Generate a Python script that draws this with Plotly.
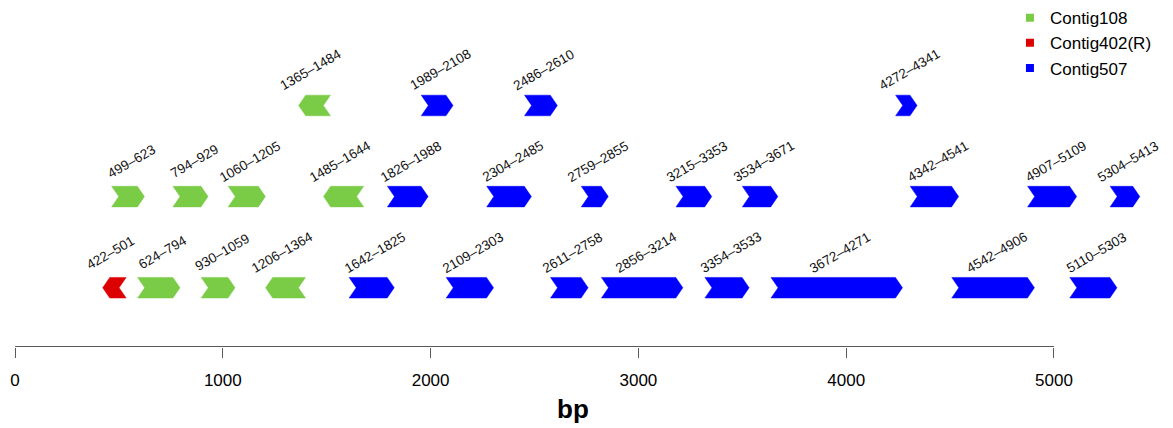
import plotly.graph_objects as go

# ---- data ----
contig_names = ["Contig108", "Contig402(R)", "Contig507"]
contig_colors = ["#7ACB46", "#DC0000", "#0000FF"]

# genes: start, end, strand (+1 forward / -1 reverse), contig index, row (1 = bottom, 3 = top)
gene_start = [1365, 1989, 2486, 4272,
              499, 794, 1060, 1485, 1826, 2304, 2759, 3215, 3534, 4342, 4907, 5304,
              422, 624, 930, 1206, 1642, 2109, 2611, 2856, 3354, 3672, 4542, 5110]
gene_end = [1484, 2108, 2610, 4341,
            623, 929, 1205, 1644, 1988, 2485, 2855, 3353, 3671, 4541, 5109, 5413,
            501, 794, 1059, 1364, 1825, 2303, 2758, 3214, 3533, 4271, 4906, 5303]
gene_strand = [-1, 1, 1, 1,
               1, 1, 1, -1, 1, 1, 1, 1, 1, 1, 1, 1,
               -1, 1, 1, -1, 1, 1, 1, 1, 1, 1, 1, 1]
gene_contig = [0, 2, 2, 2,
               0, 0, 0, 0, 2, 2, 2, 2, 2, 2, 2, 2,
               1, 0, 0, 0, 2, 2, 2, 2, 2, 2, 2, 2]
gene_row = [3, 3, 3, 3,
            2, 2, 2, 2, 2, 2, 2, 2, 2, 2, 2, 2,
            1, 1, 1, 1, 1, 1, 1, 1, 1, 1, 1, 1]

tick_vals = [0, 1000, 2000, 3000, 4000, 5000]
tick_text = ["0", "1000", "2000", "3000", "4000", "5000"]

# ---- style constants ----
HEAD = 34      # arrow head / notch length in bp
HALF_H = 0.113 # half height of arrow in row units
LABEL_DY = 0.39
Y_RANGE = [0.3495, 4.0806]
X_RANGE = [-72.18, 5572.7]
AXIS_Y = 0.3548
FONT = "Liberation Sans, Arial, Helvetica, sans-serif"

fig = go.Figure()

for ci, (name, col) in enumerate(zip(contig_names, contig_colors)):
    xs, ys = [], []
    for s, e, st, c, r in zip(gene_start, gene_end, gene_strand, gene_contig, gene_row):
        if c != ci:
            continue
        top, bot = r + HALF_H, r - HALF_H
        if st > 0:
            px = [s - HEAD, e - HEAD, e, e - HEAD, s - HEAD, s, s - HEAD]
            py = [top, top, r, bot, bot, r, top]
        else:
            px = [s, s + HEAD, e + HEAD, e, e + HEAD, s + HEAD, s]
            py = [r, top, top, r, bot, bot, r]
        xs += px + [None]
        ys += py + [None]
    fig.add_trace(go.Scatter(x=xs, y=ys, mode="lines", fill="toself",
                             fillcolor=col, line=dict(color=col, width=0.5),
                             hoverinfo="skip", showlegend=False))
    # legend-only entry
    fig.add_trace(go.Scatter(x=[None], y=[None], mode="markers", name=name,
                             marker=dict(symbol="square", size=8, color=col)))

# gene labels
for s, e, r in zip(gene_start, gene_end, gene_row):
    fig.add_annotation(x=(s + e) / 2, y=r + LABEL_DY, text=f"{s}\u2013{e}",
                       showarrow=False, textangle=-30, xanchor="center", yanchor="middle",
                       font=dict(family=FONT, size=13.5, color="#111"))

# x-axis title
fig.add_annotation(x=573 / 1173, y=-(410 - 347) / 347, xref="paper", yref="paper",
                   text="<b>bp</b>", showarrow=False, xanchor="center", yanchor="middle",
                   font=dict(family=FONT, size=26, color="black"))

# axis line
fig.add_trace(go.Scatter(x=[tick_vals[0], tick_vals[-1]], y=[AXIS_Y, AXIS_Y], mode="lines",
                         line=dict(color="#5a5a5a", width=1.2),
                         hoverinfo="skip", showlegend=False))

fig.update_layout(
    width=1173, height=428,
    margin=dict(l=0, r=0, t=0, b=81),
    plot_bgcolor="white", paper_bgcolor="white",
    font=dict(family=FONT, color="black"),
    xaxis=dict(range=X_RANGE, showgrid=False, zeroline=False, showline=False,
               tickvals=tick_vals, ticktext=tick_text, ticks="outside", ticklen=10,
               tickcolor="#5a5a5a", tickwidth=1.2, tickfont=dict(size=17),
               ticklabelstandoff=8),
    yaxis=dict(range=Y_RANGE, visible=False),
    legend=dict(x=0.861, y=1.02, xanchor="left", yanchor="top", font=dict(size=17),
                bgcolor="rgba(0,0,0,0)", tracegroupgap=0, itemwidth=30),
)

fig.write_html("out.html")
